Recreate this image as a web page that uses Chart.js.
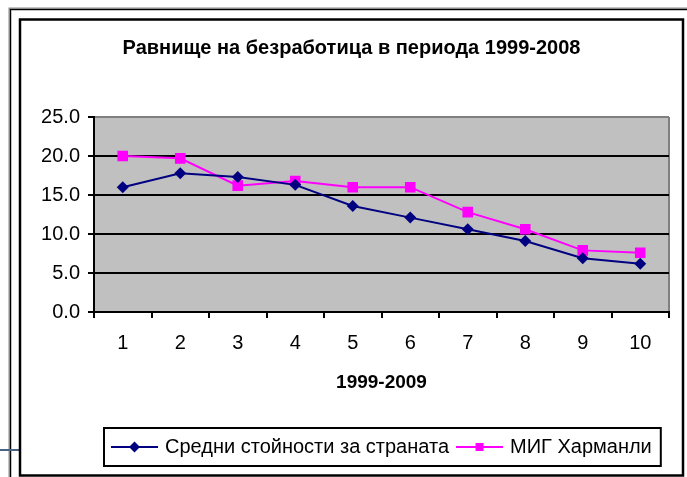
<!DOCTYPE html>
<html><head><meta charset="utf-8">
<script src="https://cdn.jsdelivr.net/npm/chart.js@4"></script>
<style>html,body{margin:0;padding:0;background:#fff;} canvas{display:block;}</style>
</head><body>
<canvas id="c" width="687" height="477"></canvas>
<script>
const categories = ['1','2','3','4','5','6','7','8','9','10'];
const seriesNames = ['Средни стойности за страната', 'МИГ Харманли'];
const countryAvg = [16.0, 17.8, 17.3, 16.3, 13.6, 12.1, 10.6, 9.1, 6.9, 6.2];
const harmanli = [20.0, 19.7, 16.2, 16.8, 16.0, 16.0, 12.8, 10.6, 7.9, 7.6];
const yTickLabels = ['0.0', '5.0', '10.0', '15.0', '20.0', '25.0'];
const chartTitle = 'Равнище на безработица в периода 1999-2008';
const xAxisTitle = '1999-2009';

const NAVY = '#000080', MAGENTA = '#FF00FF';
const FONT = "'Liberation Sans', Arial, sans-serif";
const LEGEND_SWATCH = 41;

function legendMarker(color, shape) {
  const c = document.createElement('canvas');
  c.width = 47; c.height = 14;
  const g = c.getContext('2d');
  g.strokeStyle = color; g.lineWidth = 2;
  g.beginPath(); g.moveTo(0, 7); g.lineTo(47, 7); g.stroke();
  g.fillStyle = color; g.beginPath();
  if (shape === 'diamond') {
    g.moveTo(23.5, 1.5); g.lineTo(29, 7); g.lineTo(23.5, 12.5); g.lineTo(18, 7); g.closePath();
  } else {
    g.rect(19.5, 3, 8, 8);
  }
  g.fill();
  return c;
}
const legendMarkers = [legendMarker(NAVY, 'diamond'), legendMarker(MAGENTA, 'square')];

function legendStart(lg) {
  const pad = lg.options.labels.padding;
  return (lg.left + pad + lg.right - lg.lineWidths[0]) / 2;
}

const frames = {
  id: 'frames',
  afterLayout(chart) {
    const t = chart.titleBlock;
    if (t) { t.left += 17; t.right += 17; }
    const lg = chart.legend;
    if (lg && lg.lineWidths) {
      const dx = 114 - legendStart(lg);
      lg.left += dx; lg.right += dx;
    }
  },
  beforeDraw(chart) {
    const ctx = chart.ctx;
    const a = chart.chartArea;
    ctx.save();
    ctx.strokeStyle = '#8a8a8a'; ctx.lineWidth = 3;
    ctx.strokeRect(10, 9, 700, 500);
    ctx.strokeStyle = '#000'; ctx.lineWidth = 1;
    ctx.strokeRect(10.5, 9.5, 700, 500);
    ctx.strokeStyle = '#4a6285'; ctx.lineWidth = 2;
    ctx.beginPath(); ctx.moveTo(0, 450); ctx.lineTo(19, 450); ctx.stroke();
    ctx.fillStyle = '#fff';
    ctx.fillRect(20, 19, 663, 456);
    ctx.strokeStyle = '#000'; ctx.lineWidth = 2.5;
    ctx.strokeRect(20, 19.5, 663, 456);
    ctx.fillStyle = '#C0C0C0';
    ctx.fillRect(a.left, a.top, a.right - a.left, a.bottom - a.top);
    ctx.strokeStyle = '#808080'; ctx.lineWidth = 2;
    ctx.beginPath(); ctx.moveTo(a.right, a.top); ctx.lineTo(a.right, a.bottom); ctx.stroke();
    ctx.restore();
  },
  afterDraw(chart) {
    const lg = chart.legend;
    if (!lg || !lg.lineWidths) return;
    const pad = lg.options.labels.padding;
    const x0 = legendStart(lg);
    const left = x0 + LEGEND_SWATCH / 2 - 23.5 - 7;
    const right = x0 + lg.lineWidths[0] - pad + 9;
    const ctx = chart.ctx;
    ctx.save();
    ctx.strokeStyle = '#000'; ctx.lineWidth = 2;
    ctx.strokeRect(left, lg.top + 1, right - left, lg.height - 2);
    ctx.restore();
  }
};

Chart.defaults.font.family = FONT;
Chart.defaults.font.size = 20;
Chart.defaults.color = '#000';

new Chart(document.getElementById('c'), {
  type: 'line',
  data: {
    labels: categories,
    datasets: [
      { label: seriesNames[0], data: countryAvg, borderColor: NAVY, backgroundColor: NAVY,
        borderWidth: 2, pointStyle: 'rectRot', pointRadius: 6, pointHoverRadius: 6,
        pointBorderWidth: 0, tension: 0, fill: false },
      { label: seriesNames[1], data: harmanli, borderColor: MAGENTA, backgroundColor: MAGENTA,
        borderWidth: 2, pointStyle: 'rect', pointRadius: 7.5, pointHoverRadius: 7.5,
        pointBorderWidth: 0, tension: 0, fill: false }
    ]
  },
  options: {
    responsive: false,
    animation: false,
    devicePixelRatio: 1,
    layout: { padding: { left: 0, right: 18, top: 0, bottom: 10 } },
    plugins: {
      title: { display: true, text: chartTitle, color: '#000',
        font: { size: 20, weight: 'bold', family: FONT, lineHeight: 1.2 },
        padding: { top: 36.5, bottom: 56.5 } },
      legend: {
        position: 'bottom',
        labels: {
          usePointStyle: true, pointStyleWidth: LEGEND_SWATCH, padding: 10, color: '#000',
          font: { size: 20, family: FONT },
          generateLabels(chart) {
            return Chart.defaults.plugins.legend.labels.generateLabels(chart)
              .map((l, i) => Object.assign(l, { pointStyle: legendMarkers[i], rotation: 0 }));
          }
        }
      },
      tooltip: { enabled: false }
    },
    scales: {
      x: {
        type: 'category',
        offset: true,
        grid: { offset: true, drawOnChartArea: false, drawTicks: true, tickLength: 6,
          tickColor: '#000', lineWidth: 2 },
        border: { display: true, color: '#000', width: 2 },
        ticks: { padding: 13, color: '#000', font: { size: 20 }, maxRotation: 0 },
        title: { display: true, text: xAxisTitle, color: '#000',
          font: { size: 19, weight: 'bold', lineHeight: 1.2 }, padding: { top: 4, bottom: 32.5 } },
        afterFit(s) { s.height = 115; }
      },
      y: {
        min: 0, max: 25,
        grid: {
          color: (c) => (c.tick && c.tick.value === 25) ? '#808080' : '#000',
          lineWidth: 2, tickLength: 6, tickColor: '#000', drawTicks: true
        },
        border: { display: true, color: '#000', width: 2 },
        ticks: { stepSize: 5, padding: 8, color: '#000', font: { size: 20 },
          callback: (v, i) => yTickLabels[i] },
        afterFit(s) { s.width = 94; }
      }
    }
  },
  plugins: [frames]
});
</script>
</body></html>
